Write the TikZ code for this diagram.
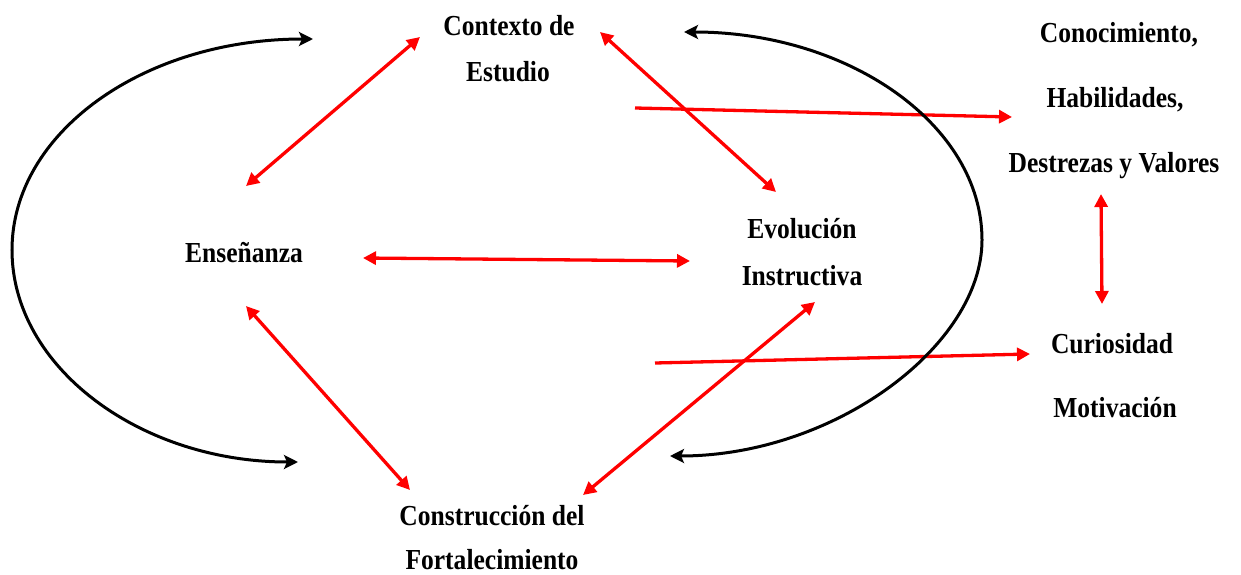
\documentclass[tikz,border=0pt]{standalone}
\usepackage{fontspec}
\setmainfont{Liberation Serif}[FakeStretch=0.88]
\usetikzlibrary{arrows.meta}
\begin{document}
\begin{tikzpicture}[x=1pt,y=-1pt,
  lbl/.style={anchor=base,inner sep=0pt,font=\fontsize{29}{35}\selectfont\bfseries},
  redarr/.style={draw=red,line width=3.3pt,{Triangle[length=13pt,width=13pt]}-{Triangle[length=13pt,width=13pt]}},
  redone/.style={draw=red,line width=3.3pt,-{Triangle[length=13pt,width=13pt]}},
  blackarr/.style={draw=black,line width=3pt,{Stealth[length=14pt,width=14pt,inset=3pt]}-{Stealth[length=14pt,width=14pt,inset=3pt]}}]
\useasboundingbox (0,0) rectangle (1241,575);
\fill[white] (0,0) rectangle (1241,575);
% labels
\node[lbl] (ctx1) at (509,36) {Contexto de};
\node[lbl] (ctx2) at (508,82) {Estudio};
\node[lbl] (con1) at (1119,43) {Conocimiento,};
\node[lbl] (con2) at (1115,107) {Habilidades,};
\node[lbl] (con3) at (1114,172) {Destrezas y Valores};
\node[lbl] (ens) at (244,262) {Enseñanza};
\node[lbl] (evo1) at (802,238) {Evolución};
\node[lbl] (evo2) at (802,285) {Instructiva};
\node[lbl] (cur1) at (1112,353) {Curiosidad};
\node[lbl] (cur2) at (1115,417) {Motivación};
\node[lbl] (cons1) at (492,525) {Construcción del};
\node[lbl] (cons2) at (492,569) {Fortalecimiento};
% connector end points
\coordinate (a1) at (420,37);   \coordinate (a2) at (246,186);
\coordinate (b1) at (600,32);   \coordinate (b2) at (776,192);
\coordinate (c1) at (635,108);  \coordinate (c2) at (1012,117);
\coordinate (d1) at (363,258);  \coordinate (d2) at (690,261);
\coordinate (e1) at (1101,194); \coordinate (e2) at (1102,304);
\coordinate (f1) at (246,306);  \coordinate (f2) at (410,490);
\coordinate (g1) at (583,495);  \coordinate (g2) at (815,302);
\coordinate (h1) at (655,363);  \coordinate (h2) at (1030,354);
% red arrows
\draw[redarr] (a1) -- (a2);
\draw[redarr] (b1) -- (b2);
\draw[redone] (c1) -- (c2);
\draw[redarr] (d1) -- (d2);
\draw[redarr] (e1) -- (e2);
\draw[redarr] (f1) -- (f2);
\draw[redarr] (g1) -- (g2);
\draw[redone] (h1) -- (h2);
% black curves
\coordinate (lt) at (313,39); \coordinate (ll) at (12,250); \coordinate (lb) at (298,462);
\coordinate (rt) at (684,32); \coordinate (rr) at (982,240); \coordinate (rb) at (670,456);
\draw[blackarr] (lt) .. controls (143,39) and (12,133) .. (ll)
  .. controls (12,367) and (140,462) .. (lb);
\draw[blackarr] (rt) .. controls (849,32) and (982,125) .. (rr)
  .. controls (982,345) and (835,456) .. (rb);
\end{tikzpicture}
\end{document}
